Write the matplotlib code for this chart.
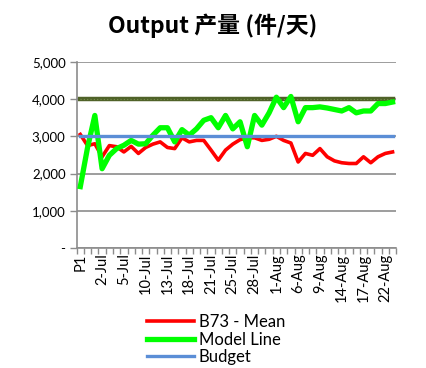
import matplotlib.pyplot as plt
from matplotlib.ticker import FuncFormatter, FixedLocator

plt.rcParams['font.family'] = ['Lato', 'DejaVu Sans']

# category labels (only every third one is shown on the axis)
days = ["P1", "P2", "1-Jul", "2-Jul", "3-Jul", "4-Jul", "5-Jul", "8-Jul", "9-Jul",
        "10-Jul", "11-Jul", "12-Jul", "13-Jul", "15-Jul", "16-Jul", "18-Jul",
        "19-Jul", "20-Jul", "21-Jul", "22-Jul", "23-Jul", "25-Jul", "26-Jul",
        "27-Jul", "28-Jul", "29-Jul", "31-Jul", "1-Aug", "2-Aug", "5-Aug",
        "6-Aug", "7-Aug", "8-Aug", "9-Aug", "12-Aug", "13-Aug", "14-Aug",
        "15-Aug", "16-Aug", "17-Aug", "19-Aug", "20-Aug", "22-Aug", "23-Aug"]

b73_mean = [3050, 2750, 2800, 2450, 2750, 2720, 2580, 2730, 2540, 2700,
            2790, 2850, 2700, 2670, 2960, 2850, 2890, 2890, 2630, 2360,
            2630, 2790, 2910, 2960, 2960, 2890, 2920, 3000, 2890, 2820,
            2310, 2540, 2490, 2670, 2450, 2340, 2290, 2270, 2270, 2450,
            2290, 2450, 2540, 2580]

model_line = [1650, 2700, 3560, 2130, 2490, 2670, 2760, 2890, 2790, 2800,
              3030, 3230, 3230, 2850, 3180, 3030, 3200, 3430, 3500, 3230,
              3560, 3200, 3390, 2720, 3560, 3300, 3630, 4050, 3770, 4070,
              3390, 3770, 3770, 3790, 3760, 3720, 3680, 3770, 3630, 3680,
              3680, 3880, 3880, 3920]

budget = [3000] * len(days)
target = [4000] * len(days)

x = list(range(len(days)))

fig = plt.figure(figsize=(4.26, 3.68), dpi=100)
ax = fig.add_axes([0.18, 0.326, 0.75, 0.506])

ax.plot(x, target, color='#4F6228', lw=3.2, zorder=2)
ax.plot(x, target, color='#7A8F4E', lw=0.8, ls=(0, (1, 2)), zorder=2)
l1, = ax.plot(x, b73_mean, color='#FF0000', lw=2.6, zorder=3, label='B73 - Mean')
l2, = ax.plot(x, model_line, color='#00FF00', lw=3.8, zorder=4, label='Model Line')
l3, = ax.plot(x, budget, color='#5B8ED6', lw=2.4, zorder=5, label='Budget')

ax.set_xlim(-0.5, len(days) - 0.5)
ax.set_ylim(0, 5000)
ax.set_yticks(range(0, 5001, 1000))
ax.yaxis.set_major_formatter(FuncFormatter(lambda v, p: '-' if v == 0 else f'{int(v):,}'))
ax.grid(axis='y', color='#8C8C8C', lw=1.2, zorder=0)

ax.set_xticks(x[::3])
ax.set_xticklabels(days[::3], rotation=90, fontsize=10.5)
ax.xaxis.set_minor_locator(FixedLocator([i - 0.5 for i in range(len(days) + 1)]))
ax.tick_params(axis='x', which='major', length=0, pad=4)
ax.tick_params(axis='x', which='minor', length=4, color='#8C8C8C', width=1)
ax.tick_params(axis='y', length=5, color='#8C8C8C', width=1, labelsize=9.5, pad=3)

for s in ['top', 'right']:
    ax.spines[s].set_visible(False)
ax.spines['left'].set_color('#8C8C8C')
ax.spines['bottom'].set_color('#8C8C8C')
ax.spines['left'].set_linewidth(1.2)
ax.spines['bottom'].set_linewidth(1.2)

fig.text(0.5, 0.93, 'Output 产量 (件/天)', ha='center', va='center', fontsize=16.5,
         fontweight='bold', family=['Noto Sans CJK SC', 'DejaVu Sans'])

fig.legend(handles=[l1, l2, l3], loc='upper left', bbox_to_anchor=(0.33, 0.165),
           frameon=False, fontsize=12, handlelength=2.8, handletextpad=0.3,
           labelspacing=0.1, borderaxespad=0)

fig.savefig('out.png', dpi=100)
